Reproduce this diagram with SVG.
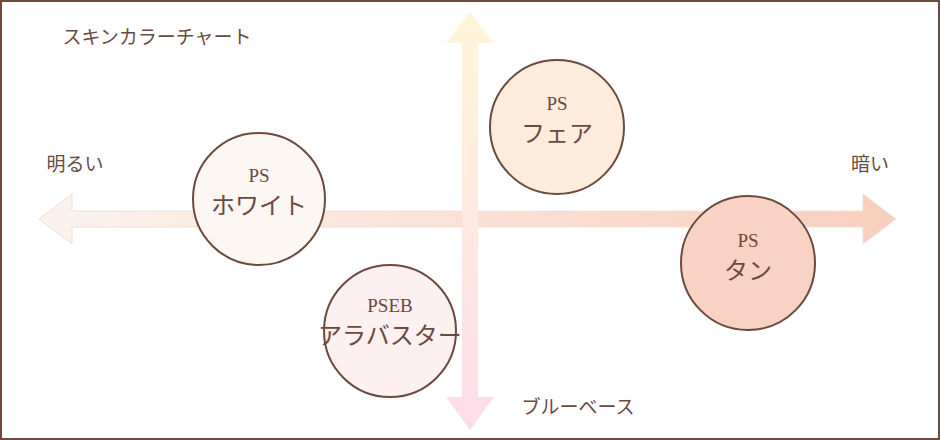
<svg xmlns="http://www.w3.org/2000/svg" width="940" height="440" viewBox="0 0 940 440">
<style>
text{font-family:"Liberation Serif","Noto Sans CJK JP",serif;fill:#6b4a40;text-anchor:middle}
.lbl{font-size:19px}
.n circle{stroke:#6b4a40;stroke-width:2}
.ps{font-size:19px}
.nm{font-size:24px}
</style>
<defs>
<linearGradient id="gh" x1="0" x2="1" y1="0" y2="0"><stop offset="0" stop-color="#fbf3ee"/><stop offset="1" stop-color="#f8cfbd"/></linearGradient>
<linearGradient id="gv" x1="0" x2="0" y1="0" y2="1"><stop offset="0" stop-color="#fff6d8"/><stop offset="1" stop-color="#fddce8"/></linearGradient>
</defs>
<rect x="1" y="1" width="938" height="438" fill="#fff" stroke="#6b4a40" stroke-width="2"/>
<g id="connectors">
<path d="M39,219 L72,194 L72,211 L863,211 L863,194 L896,219 L863,244 L863,227 L72,227 L72,244 Z" fill="url(#gh)" stroke="#efe0d8" stroke-width="1"/>
<path d="M470,12 L494,43 L478,43 L478,397 L494,397 L470,430 L446,397 L462,397 L462,43 L446,43 Z" fill="url(#gv)"/>
</g>
<text x="157" y="44" class="lbl">スキンカラーチャート</text>
<text x="75" y="171" class="lbl">明るい</text>
<text x="870" y="171" class="lbl">暗い</text>
<text x="578" y="414" class="lbl">ブルーベース</text>
<g id="white" class="n"><circle cx="259" cy="199" r="66" fill="#fdf7f4"/><text x="259" y="182" class="ps">PS</text><text x="259" y="214" class="nm">ホワイト</text></g>
<g id="fair" class="n"><circle cx="557" cy="127" r="67" fill="#fdebdc"/><text x="557" y="110" class="ps">PS</text><text x="557" y="142" class="nm">フェア</text></g>
<g id="tan" class="n"><circle cx="748" cy="263" r="67" fill="#f8d3c3"/><text x="748" y="247" class="ps">PS</text><text x="748" y="279" class="nm">タン</text></g>
<g id="alabaster" class="n"><circle cx="390" cy="331" r="66" fill="#fdf0f0"/><text x="390" y="312" class="ps">PSEB</text><text x="390" y="344" class="nm">アラバスター</text></g>
</svg>
